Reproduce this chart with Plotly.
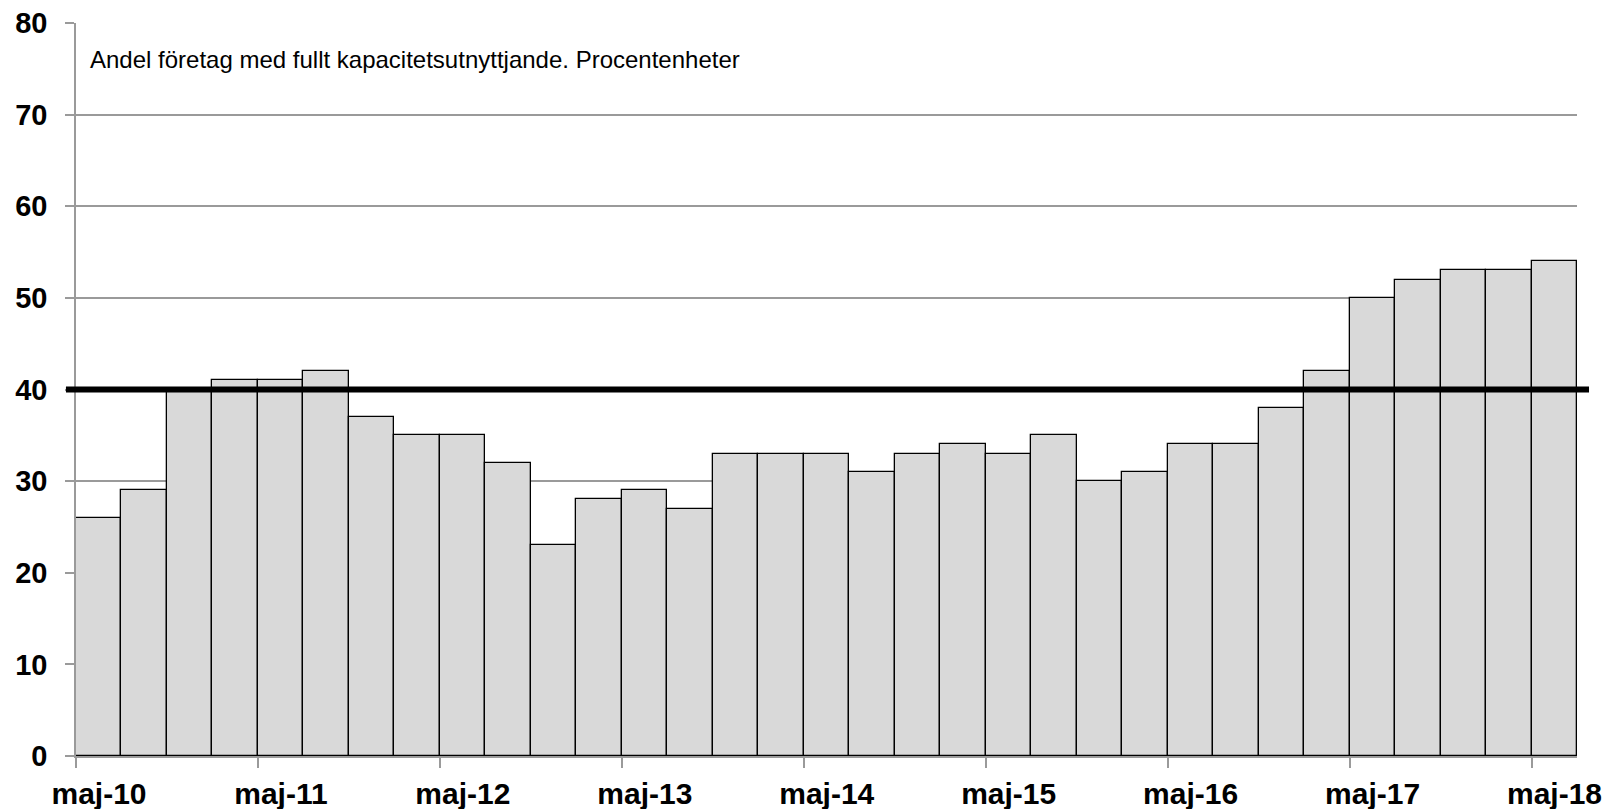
import plotly.graph_objects as go

categories = ["maj-10","aug-10","nov-10","feb-11","maj-11","aug-11","nov-11","feb-12",
              "maj-12","aug-12","nov-12","feb-13","maj-13","aug-13","nov-13","feb-14",
              "maj-14","aug-14","nov-14","feb-15","maj-15","aug-15","nov-15","feb-16",
              "maj-16","aug-16","nov-16","feb-17","maj-17","aug-17","nov-17","feb-18","maj-18"]
values = [26, 29, 40, 41, 41, 42, 37, 35, 35, 32, 23, 28, 29, 27, 33, 33, 33, 31, 33, 34,
          33, 35, 30, 31, 34, 34, 38, 42, 50, 52, 53, 53, 54]
tick_labels = ["maj-10","maj-11","maj-12","maj-13","maj-14","maj-15","maj-16","maj-17","maj-18"]
reference_level = 40
annotation_text = "Andel företag med fullt kapacitetsutnyttjande. Procentenheter"

x_idx = list(range(len(categories)))
label_pos = [categories.index(t) for t in tick_labels]

FONT = "Liberation Sans, Arial, sans-serif"
GRID = "#9a9a9a"

fig = go.Figure()
fig.add_trace(go.Bar(
    x=x_idx, y=values, width=1,
    marker=dict(color="#d9d9d9", line=dict(color="black", width=1.3)),
    hovertext=categories,
))

fig.add_shape(type="line", xref="paper", yref="y",
              x0=-0.0067, x1=1.008, y0=reference_level, y1=reference_level,
              line=dict(color="black", width=6), layer="above")

fig.add_annotation(text=annotation_text, xref="paper", yref="paper",
                   x=0.008, y=0.95, xanchor="left", yanchor="middle",
                   showarrow=False, font=dict(family=FONT, size=24, color="black"))

fig.update_layout(
    width=1612, height=809,
    margin=dict(l=76, r=35, t=23, b=53, autoexpand=False),
    plot_bgcolor="white", paper_bgcolor="white",
    showlegend=False, bargap=0,
    font=dict(family=FONT, color="black"),
    xaxis=dict(
        range=[-0.5, len(categories) - 0.5], automargin=False,
        tickmode="array", tickvals=[p - 0.5 for p in label_pos], ticktext=tick_labels,
        ticks="outside", ticklen=10, tickcolor=GRID, tickwidth=1.5,
        showline=True, linecolor=GRID, linewidth=1.5,
        showgrid=False, zeroline=False,
        tickfont=dict(family=FONT, size=30, color="black", weight="bold"),
        ticklabelshift=23,
    ),
    yaxis=dict(
        range=[0, 80], dtick=10, automargin=False,
        ticks="outside", ticklen=9, tickcolor=GRID, tickwidth=1.5,
        showline=True, linecolor=GRID, linewidth=1.5,
        showgrid=True, gridcolor=GRID, gridwidth=1.5, zeroline=False,
        tickfont=dict(family=FONT, size=29, color="black", weight="bold"),
        ticklabelstandoff=12,
    ),
)

fig.write_html("out.html", config={"displayModeBar": False},
               post_script="document.body.style.margin='0';document.body.style.overflow='hidden';")
